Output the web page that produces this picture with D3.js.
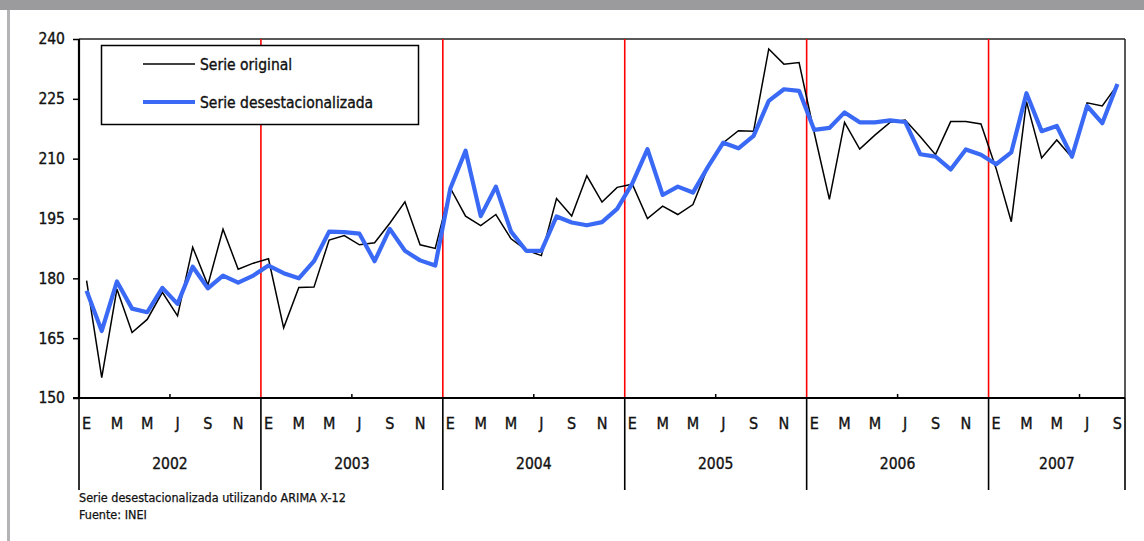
<!DOCTYPE html>
<html><head><meta charset="utf-8">
<script src="https://cdn.jsdelivr.net/npm/d3@7"></script>
<style>
html,body{margin:0;padding:0;background:#fff;}
svg{display:block;}
text{font-family:"DejaVu Sans Condensed","DejaVu Sans",sans-serif;font-stretch:condensed;font-weight:normal;fill:#111;stroke:#111;stroke-width:0.35px;}
</style></head>
<body>
<svg id="c" width="1144" height="541"></svg>
<script>
const years = ["2002","2003","2004","2005","2006","2007"];
const monthsPerYear = [12,12,12,12,12,9];
const monthLetters = ["E","F","M","A","M","J","J","A","S","O","N","D"];
const yTicks = [150,165,180,195,210,225,240];
const seriesNames = ["Serie original","Serie desestacionalizada"];
const original = [
 179.4,155.1,177.3,166.4,169.7,176.5,170.6,187.8,178.3,192.3,182.3,183.8,
 184.9,167.6,177.7,177.8,189.6,190.7,188.4,188.9,193.8,199.2,188.4,187.5,
 202.6,195.6,193.2,196.0,189.9,187.1,185.7,200.0,195.6,205.7,199.1,202.8,
 203.6,195.0,198.1,196.0,198.5,208.0,214.0,217.0,216.9,237.5,233.7,234.1,
 216.5,199.8,219.1,212.4,215.9,219.1,219.7,215.5,211.0,219.3,219.3,218.7,
 207.5,194.2,224.3,210.2,214.7,210.3,224.0,223.2,228.5
];
const adjusted = [
 176.9,166.8,179.2,172.4,171.5,177.6,173.6,182.9,177.5,180.7,178.9,180.7,
 183.2,181.3,180.0,184.3,191.7,191.6,191.2,184.3,192.4,186.9,184.5,183.2,
 202.6,212.0,195.6,203.0,191.7,186.9,186.9,195.5,194.0,193.3,194.1,197.4,
 203.8,212.4,200.9,203.0,201.5,208.0,214.0,212.6,215.7,224.5,227.4,227.0,
 217.2,217.7,221.6,219.1,219.1,219.6,219.2,211.1,210.5,207.3,212.3,211.0,
 208.6,211.6,226.4,216.9,218.2,210.5,223.2,218.9,228.7
];
const footnotes = ["Serie desestacionalizada utilizando ARIMA X-12","Fuente: INEI"];

const svg = d3.select("#c");
const L=79, R=1125, T=39, B=398;

svg.append("rect").attr("x",0).attr("y",0).attr("width",1144).attr("height",10).attr("fill","#9b9b9e");
svg.append("rect").attr("x",7).attr("y",10).attr("width",3).attr("height",531).attr("fill","#b4b4b6");

const idx = d3.range(original.length);
const x = d3.scaleBand().domain(idx).range([L,R]).padding(0);
const y = d3.scaleLinear().domain([150,240]).range([B,T]);
const cx = i => x(i)+x.bandwidth()/2;

let starts=[0]; monthsPerYear.forEach((m,i)=>starts.push(starts[i]+m));
const boundaryX = k => k>=original.length ? R : x(k);

svg.append("line").attr("x1",L).attr("x2",R).attr("y1",T).attr("y2",T).attr("stroke","#222").attr("stroke-width",1.5);
svg.append("line").attr("x1",R).attr("x2",R).attr("y1",T).attr("y2",B).attr("stroke","#222").attr("stroke-width",1.5);

starts.slice(1,-1).forEach(k=>{
  svg.append("line").attr("x1",boundaryX(k)).attr("x2",boundaryX(k)).attr("y1",T).attr("y2",B)
   .attr("stroke","#ff0000").attr("stroke-width",1.6);
});

starts.slice(0,-1).forEach(k=>{
  const xx = x(k+6);
  if(xx!==undefined) svg.append("line").attr("x1",xx).attr("x2",xx).attr("y1",B).attr("y2",B-4).attr("stroke","#000").attr("stroke-width",1.5);
});

const line = d3.line().x((d,i)=>cx(i)).y(d=>y(d));
svg.append("path").datum(original).attr("d",line).attr("fill","none").attr("stroke","#000").attr("stroke-width",1.5).attr("stroke-linejoin","miter");
svg.append("path").datum(adjusted).attr("d",line).attr("fill","none").attr("stroke","#3a6af5").attr("stroke-width",4.2).attr("stroke-linejoin","round");

const ya = svg.append("g").attr("transform",`translate(${L},0)`)
  .call(d3.axisLeft(y).tickValues(yTicks).tickSize(6).tickPadding(8));
ya.selectAll(".tick line").attr("stroke","#000").attr("stroke-width",1.5);
ya.selectAll(".tick text").style("font-size","15.5px").attr("fill","#111");
ya.select(".domain").attr("stroke","#000").attr("stroke-width",2.2).attr("d",`M0,${T}V${B}`);

svg.append("line").attr("x1",L-6).attr("x2",R).attr("y1",B).attr("y2",B).attr("stroke","#000").attr("stroke-width",2.2);

const monthOf = i => { const yi=starts.findIndex((s,j)=>i>=s && i<starts[j+1]); return i-starts[yi]; };
const xa = svg.append("g").attr("transform",`translate(0,${B})`)
  .call(d3.axisBottom(x).tickValues(idx.filter(i=>monthOf(i)%2===0))
  .tickSize(0).tickPadding(20)
  .tickFormat(i=>monthLetters[monthOf(i)]));
xa.select(".domain").remove();
xa.selectAll(".tick text").style("font-size","16px").attr("fill","#111");

starts.forEach(k=>{
  const xx = boundaryX(k);
  svg.append("line").attr("x1",xx).attr("x2",xx).attr("y1",B).attr("y2",490).attr("stroke","#000").attr("stroke-width",1.6);
});
years.forEach((yr,i)=>{
  const mid=(boundaryX(starts[i])+boundaryX(starts[i+1]))/2;
  svg.append("text").attr("x",mid).attr("y",469).attr("text-anchor","middle").style("font-size","15.5px").text(yr);
});

const lg = svg.append("g");
lg.append("rect").attr("x",101.5).attr("y",45.5).attr("width",317).attr("height",79).attr("fill","#fff").attr("stroke","#000").attr("stroke-width",1.5);
const legColors=["#000","#3a6af5"], legW=[1.5,4.2], legY=[64,102];
seriesNames.forEach((n,i)=>{
  lg.append("line").attr("x1",143).attr("x2",195).attr("y1",legY[i]).attr("y2",legY[i]).attr("stroke",legColors[i]).attr("stroke-width",legW[i]);
  lg.append("text").attr("x",200).attr("y",legY[i]+6).style("font-size","15.5px").text(n);
});

footnotes.forEach((f,i)=>{
  svg.append("text").attr("x",79).attr("y",502+i*17).style("font-size","12.5px").style("stroke-width","0.25px").attr("fill","#222").text(f);
});
</script>
</body></html>
